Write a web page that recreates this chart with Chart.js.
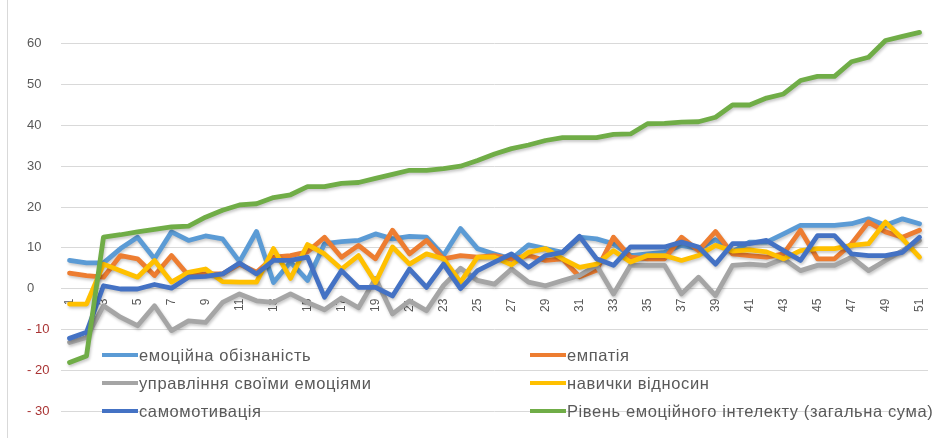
<!DOCTYPE html>
<html><head><meta charset="utf-8">
<script src="https://cdn.jsdelivr.net/npm/chart.js@4.4.1/dist/chart.umd.min.js"></script>
<style>
html,body{margin:0;padding:0;background:#fff;}
#wrap{position:relative;width:936px;height:438px;overflow:hidden;}
#frame{position:absolute;left:7px;top:0;width:1px;height:438px;background:#d9d9d9;}
canvas{position:absolute;left:0;top:0;}
.lg{position:absolute;height:20px;display:flex;align-items:center;font-family:"Liberation Sans",Arial,sans-serif;font-size:16.5px;color:#595959;letter-spacing:0.6px;white-space:nowrap;}
.lg i{display:inline-block;width:36px;height:4px;margin-right:1px;}
</style></head>
<body><div id="wrap"><div id="frame"></div><canvas id="c" width="936" height="438"></canvas><div id="legend"></div></div>
<script>
const categories = ["1","2","3","4","5","6","7","8","9","10","11","12","13","14","15","16","17","18","19","20","21","22","23","24","25","26","27","28","29","30","31","32","33","34","35","36","37","38","39","40","41","42","43","44","45","46","47","48","49","50","51"];
const seriesNames = ["емоційна обізнаність","емпатія","управління своїми емоціями","навички відносин","самомотивація","Рівень емоційного інтелекту (загальна сума)"];
const awareness = [6.9,6.3,6.3,9.8,12.6,7.3,13.9,11.8,12.9,12.2,6.6,14,1.5,6.5,2,11,11.5,11.8,13.4,12.2,12.8,12.6,8.1,14.7,9.8,8.5,7.3,10.7,9.8,8.9,12.6,12.2,11,8.1,8.5,8.9,10.6,9.8,12,9,11.4,11.4,13.4,15.5,15.5,15.5,15.9,17.1,15.5,17.1,15.9];
const empathy = [3.8,3.2,2.8,8.1,7.3,3.2,8.1,3.2,3.6,3.6,6,4,7.7,8.1,9,12.6,7.7,10.6,7.3,14.3,8.5,11.8,7.3,8.1,7.7,8.1,7.3,8.1,6.9,7.3,2.9,4.5,12.6,7.7,7.3,7.3,12.6,9.3,14,8.5,8.1,7.7,8.5,14.3,7.3,7.3,11,16.3,13.9,12.6,14.3];
const management = [-13.2,-12,-4.2,-7,-9.1,-4.2,-10.3,-7.9,-8.3,-3.4,-1.3,-3,-3.4,-1.3,-3.4,-5.2,-2.3,-4.7,2.5,-6.2,-3,-5.4,0.8,5,2,1.1,4.8,1.6,0.7,2,3.2,5.7,-1.3,5.7,5.7,5.7,-1.3,2.8,-1.7,5.7,6,5.7,7.3,4.4,5.7,5.7,7.7,4.4,6.9,9.3,11.8];
const relations = [-3.8,-3.8,6,4.4,2.8,6.9,1.6,4,4.8,1.7,1.6,1.6,9.8,2.5,10.8,8.5,4.8,8.1,1.5,10.2,6,8.5,7.3,1.6,7.7,7.7,5.8,8.9,9.8,7.3,5.2,6,9.3,6.5,8.1,8.1,6.9,8.1,10.6,9.2,9.5,9,7.3,9.3,9.8,9.8,10.6,11,16.3,12.2,7.7];
const motivation = [-12.2,-10.7,0.7,-0.1,-0.1,1,0.1,2.8,3,3.6,6.3,3.6,6.9,6.9,7.7,-2.1,4.4,0.3,0.3,-1.8,4.8,0.3,6,0,4.4,6.5,8.5,5.2,8.1,8.9,12.8,7.3,5.7,10.2,10.2,10.2,11.4,10.2,6,11,11,11.8,9.3,6.9,13,13,8.5,8.1,8.1,8.9,12.6];
const total = [-18.1,-16.5,12.6,13.2,13.9,14.5,15.1,15.3,17.5,19.2,20.5,20.8,22.3,23,25,25,25.8,26,27,28,29,29,29.4,30,31.4,33,34.3,35.2,36.3,37,37,37,37.8,37.9,40.4,40.5,40.8,40.9,42,45,45,46.7,47.7,51,52,52,55.6,56.7,60.8,61.8,62.8];
const colors = ["#5B9BD5","#ED7D31","#A5A5A5","#FFC000","#4472C4","#70AD47"];
const yMin = -30, yMax = 70, yStep = 10;

const allSeries = [awareness, empathy, management, relations, motivation, total];
const datasets = allSeries.map((d, i) => ({
  label: seriesNames[i], data: d, borderColor: colors[i], backgroundColor: colors[i],
  borderWidth: 4.8, pointRadius: 0, tension: 0, fill: false,
  borderJoinStyle: 'round', borderCapStyle: 'round', order: 5 - i
}));

const shadowPlugin = {
  id: 'shadow',
  beforeDatasetDraw(chart) { const c = chart.ctx; c.save(); c.shadowColor = 'rgba(0,0,0,0.22)'; c.shadowBlur = 3; c.shadowOffsetX = 1; c.shadowOffsetY = 2; },
  afterDatasetDraw(chart) { chart.ctx.restore(); }
};

new Chart(document.getElementById('c'), {
  type: 'line',
  data: { labels: categories, datasets },
  plugins: [shadowPlugin],
  options: {
    responsive: false, animation: false,
    layout: { padding: { left: 27, top: 3, right: 8, bottom: 27 } },
    plugins: { legend: { display: false }, tooltip: { enabled: false } },
    scales: {
      x: {
        type: 'category', offset: true, position: { y: 0 },
        grid: { display: false }, border: { display: false },
        afterFit(s) { s.height = 0; s.paddingLeft = 0; s.paddingRight = 0; },
        ticks: {
          autoSkip: false, minRotation: 90, maxRotation: 90, padding: 2,
          color: '#595959', font: { family: '"Liberation Sans", Arial, sans-serif', size: 12 },
          callback: (v, i) => (i % 2 === 0 ? categories[i] : '')
        }
      },
      y: {
        min: yMin, max: yMax,
        border: { display: false },
        afterFit(s) { s.width = 34; s.paddingTop = 0; s.paddingBottom = 0; },
        grid: { color: (ctx) => (ctx.tick && ctx.tick.value === yMax ? 'rgba(0,0,0,0)' : '#D9D9D9'), lineWidth: 1, drawTicks: false },
        ticks: {
          stepSize: yStep, crossAlign: 'far', padding: 6,
          color: (ctx) => (ctx.tick && ctx.tick.value < 0 ? '#A93434' : '#595959'),
          font: { family: '"Liberation Sans", Arial, sans-serif', size: 13 },
          callback: (v) => (v === yMax ? '' : (v < 0 ? '- ' + Math.abs(v) : String(v)))
        }
      }
    }
  }
});

// legend (overlapping the plot, as in the reference)
const legendPos = [[102,345],[530,345],[102,373],[530,373],[102,401],[530,401]];
const lg = document.getElementById('legend');
seriesNames.forEach((n, i) => {
  const d = document.createElement('div');
  d.className = 'lg';
  d.style.left = legendPos[i][0] + 'px';
  d.style.top = legendPos[i][1] + 'px';
  const sw = document.createElement('i');
  sw.style.background = colors[i];
  d.appendChild(sw);
  d.appendChild(document.createTextNode(n));
  lg.appendChild(d);
});
</script>
</body></html>
